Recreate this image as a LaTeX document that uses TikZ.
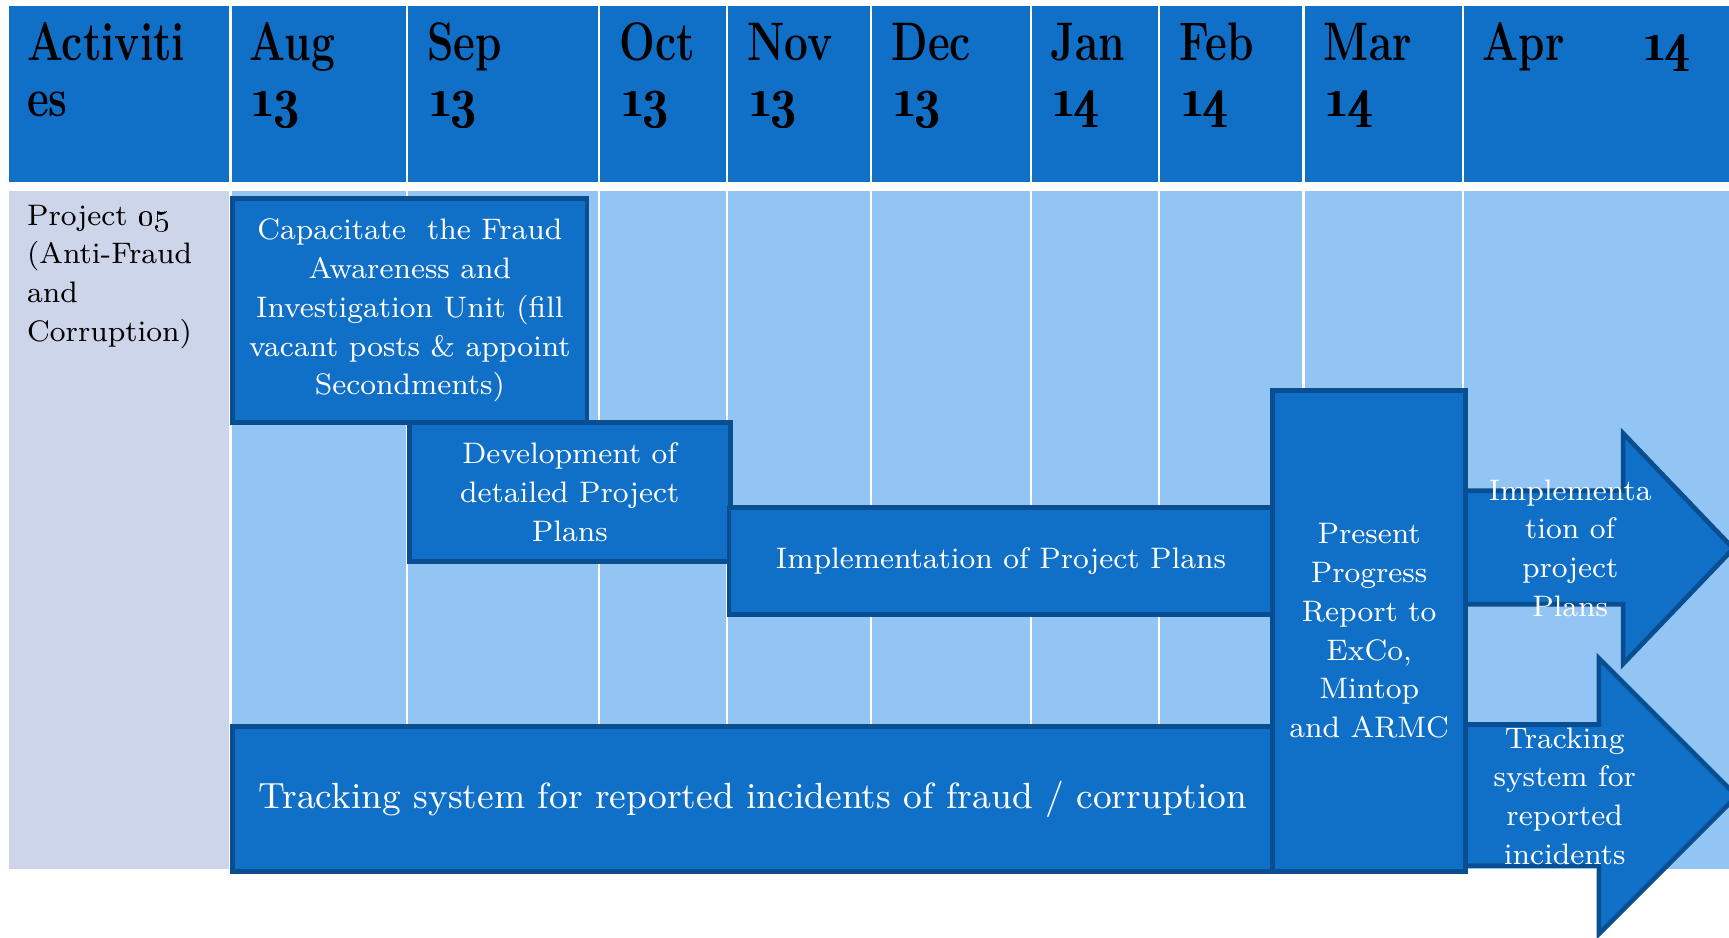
\documentclass[tikz,border=0pt]{standalone}
\usepackage{graphicx}
\definecolor{hdrblue}{RGB}{16,111,198}
\definecolor{cellblue}{RGB}{146,197,243}
\definecolor{lavender}{RGB}{205,213,234}
\definecolor{barblue}{RGB}{16,111,198}
\definecolor{edgeblue}{RGB}{10,78,146}
\newcommand\hdrtxt[1]{\scalebox{0.78}[1]{#1}}
% heavier old-style year digits, overprinted with a small offset
\newcommand\heavy[1]{\rlap{#1}\kern0.3pt\rlap{#1}\kern0.3pt\rlap{#1}\kern0.3pt#1}
\newcommand\hdrnum[1]{\scalebox{0.85}[1]{\heavy{\legacyoldstylenums{#1}}}}
\newcommand\bodyfont{\fontsize{7.65}{10}\selectfont}
\tikzset{
  hdr/.style={inner sep=0pt, anchor=base west, text=black,
    font=\fontsize{14}{16}\selectfont\bfseries},
  bar/.style={draw=edgeblue, line width=1.2pt, fill=barblue, text=white,
    align=center, inner sep=0pt, anchor=north west, font=\bodyfont},
  bartext/.style={text=white, align=center, inner sep=0pt, font=\bodyfont},
  arrowbar/.style={draw=edgeblue, line width=1.2pt, fill=barblue, line join=miter},
  sep/.style={white, line width=0.6pt}
}
\begin{document}
\begin{tikzpicture}[x=0.01cm,y=-0.01cm]
\useasboundingbox[fill=white] (0,0) rectangle (1568,850);

% header row
\fill[hdrblue] (8,5) rectangle (1572,165);
% body row
\fill[lavender] (8,173) rectangle (209,788);
\fill[cellblue] (209,173) rectangle (1572,788);
% column separators
\foreach \cx in {209,369,543,659,790,935,1051,1182,1327}{
  \draw[sep] (\cx,5) -- (\cx,165);
  \draw[sep] (\cx,173) -- (\cx,788);
}

% header labels
\node[hdr] (hAct) at (24,55) {\hdrtxt{Activiti}};
\node[hdr] (hAct2) at (24,106) {\hdrtxt{es}};
\node[hdr] (hAug) at (226,55) {\hdrtxt{Aug}};
\node[hdr] (hAugY) at (226,106) {\hdrnum{13}};
\node[hdr] (hSep) at (387,55) {\hdrtxt{Sep}};
\node[hdr] (hSepY) at (387,106) {\hdrnum{13}};
\node[hdr] (hOct) at (561,55) {\hdrtxt{Oct}};
\node[hdr] (hOctY) at (561,106) {\hdrnum{13}};
\node[hdr] (hNov) at (677,55) {\hdrtxt{Nov}};
\node[hdr] (hNovY) at (677,106) {\hdrnum{13}};
\node[hdr] (hDec) at (808,55) {\hdrtxt{Dec}};
\node[hdr] (hDecY) at (808,106) {\hdrnum{13}};
\node[hdr] (hJan) at (952,55) {\hdrtxt{Jan}};
\node[hdr] (hJanY) at (952,106) {\hdrnum{14}};
\node[hdr] (hFeb) at (1069,55) {\hdrtxt{Feb}};
\node[hdr] (hFebY) at (1069,106) {\hdrnum{14}};
\node[hdr] (hMar) at (1200,55) {\hdrtxt{Mar}};
\node[hdr] (hMarY) at (1200,106) {\hdrnum{14}};
\node[hdr] (hApr) at (1344,55) {\hdrtxt{Apr}};
\node[hdr] (hAprY) at (1488,55) {\hdrnum{14}};

% project label
\node[inner sep=0pt, anchor=north west, align=left, font=\bodyfont, text=black]
  (proj) at (24,185) {Project \oldstylenums{05}\\(Anti-Fraud\\and\\Corruption)};

% activity bars
\node[bar, minimum width=2.91cm, minimum height=1.26cm] (dev) at (369,381)
  {Development of\\detailed Project\\Plans};
\node[bar, minimum width=3.21cm, minimum height=2.03cm] (cap) at (209,178)
  {Capacitate~ the Fraud\\Awareness and\\Investigation Unit (fill\\vacant posts \& appoint\\Secondments)};
\node[bar, minimum width=4.93cm, minimum height=0.97cm] (impl) at (659,458)
  {Implementation of Project Plans};
\node[bar, minimum width=9.43cm, minimum height=1.31cm,
  font=\fontsize{9.4}{11.5}\selectfont] (track) at (209,657)
  {Tracking system for reported incidents of fraud / corruption};

% continuation arrows
\path[arrowbar] (1320,445) -- (1472,445) -- (1472,393) -- (1572,497.5)
  -- (1472,602) -- (1472,548) -- (1320,548) -- cycle;
\path[arrowbar] (1320,657) -- (1450,657) -- (1450,597) -- (1575,722)
  -- (1450,847) -- (1450,785) -- (1320,785) -- cycle;
\node[bartext] (implnext) at (1424,497) {Implementa\\tion of\\project\\Plans};
\node[bartext] (tracknext) at (1419,722) {Tracking\\system for\\reported\\incidents};

% progress report milestone
\node[bar, minimum width=1.75cm, minimum height=4.36cm] (report) at (1152,352)
  {Present\\Progress\\Report to\\ExCo,\\Mintop\\and ARMC};
\end{tikzpicture}
\end{document}
